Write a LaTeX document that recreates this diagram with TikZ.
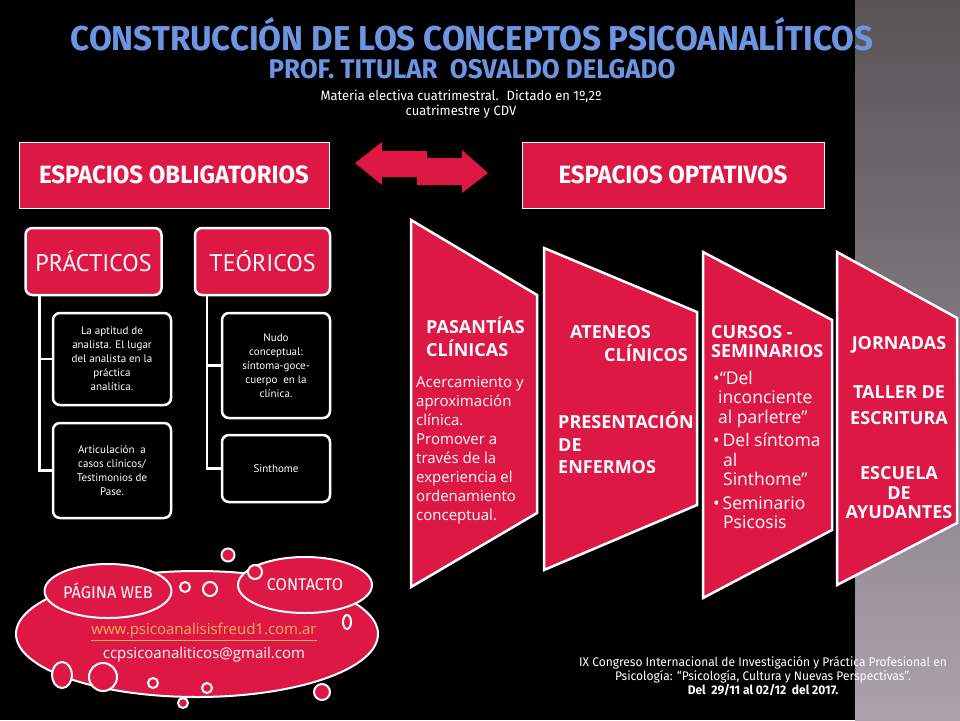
\documentclass[tikz,border=0pt]{standalone}
\usepackage{fontspec}
\setmainfont{PT Sans}
\newfontfamily\condfont[FakeStretch=0.96]{Fira Sans}
\newfontfamily\chevfont{Open Sans}
\usepackage{tikz}
\usetikzlibrary{arrows.meta, calc, positioning, shapes.geometric}
\definecolor{crimson}{RGB}{222,24,68}
\definecolor{titleblue}{RGB}{108,150,228}
\definecolor{weborange}{RGB}{246,178,88}
\definecolor{stripetop}{RGB}{88,84,86}
\definecolor{stripebot}{RGB}{172,162,172}

\begin{document}
\begin{tikzpicture}[x=1pt, y=-1pt,
  topbox/.style={draw=white, line width=1pt, fill=crimson, text=white, minimum height=66pt,
    font=\condfont\bfseries\fontsize{25}{25}\selectfont},
  groupbox/.style={draw=white, line width=2.5pt, fill=crimson, rounded corners=7pt, text=white,
    minimum width=136pt, minimum height=67pt, font=\fontsize{24}{24}\selectfont},
  itembox/.style={draw=white, line width=2.5pt, fill=black, rounded corners=7pt, text=white,
    align=center, inner sep=2pt, font=\fontsize{11}{14}\selectfont},
  tree/.style={draw=white, line width=2.5pt},
  chevron/.style={draw=white, line width=2.5pt, fill=crimson},
  chevhead/.style={text=white, align=left, inner sep=0pt, anchor=base west, font=\chevfont\bfseries\fontsize{18}{23}\selectfont},
  chevtext/.style={text=white, align=left, inner sep=0pt, anchor=base west, font=\chevfont\fontsize{15}{19}\selectfont},
  bubble/.style={draw=white, line width=2pt, fill=crimson},
  smalltext/.style={text=white, align=center, inner sep=0pt, font=\condfont\fontsize{12.5}{14}\selectfont}
]
\useasboundingbox (0,0) rectangle (960,720);
\fill[black] (0,0) rectangle (960,720);
\shade[top color=stripetop, bottom color=stripebot] (855,0) rectangle (960,720);

% titulo
\node[text=titleblue, inner sep=0pt, font=\condfont\bfseries\fontsize{34.5}{35}\selectfont] (title) at (472,34) {CONSTRUCCIÓN DE LOS CONCEPTOS PSICOANALÍTICOS};
\node[text=titleblue, inner sep=0pt, font=\condfont\bfseries\fontsize{27}{27}\selectfont] (prof) at (472,69.5) {PROF. TITULAR \ OSVALDO DELGADO};
\node[smalltext, font=\condfont\fontsize{13.5}{15}\selectfont] (materia) at (461,104) {Materia electiva cuatrimestral. \ Dictado en 1º,2º\\ cuatrimestre y CDV};

% espacios
\node[topbox, minimum width=310pt] (oblig) at (174,175) {ESPACIOS OBLIGATORIOS};
\node[topbox, minimum width=302pt] (optat) at (673,175) {ESPACIOS OPTATIVOS};
\fill[crimson] (355,163) -- (382,142) -- (382,151) -- (427,151) -- (427,177) -- (382,177) -- (382,185) -- cycle;
\fill[crimson] (488,173) -- (462,150) -- (462,158) -- (417,158) -- (417,185) -- (462,185) -- (462,193) -- cycle;

% obligatorios
\node[groupbox] (prac) at (93.5,261.5) {PRÁCTICOS};
\node[groupbox, minimum width=135pt] (teor) at (262.5,261.5) {TEÓRICOS};
\node[itembox, minimum width=118pt, minimum height=92pt] (aptitud) at (112,359) {La aptitud de\\ analista. El lugar\\ del analista en la\\ práctica\\ analítica.};
\node[itembox, minimum width=118pt, minimum height=95pt] (articul) at (112,470.5) {Articulación \ a\\ casos clínicos/\\ Testimonios de\\ Pase.};
\node[itembox, minimum width=108pt, minimum height=105pt] (nudo) at (276,365.5) {Nudo\\ conceptual:\\ síntoma-goce-\\ cuerpo \ en la\\ clínica.};
\node[itembox, minimum width=108pt, minimum height=67pt] (sinth) at (276,468.5) {Sinthome};
\draw[tree] ([xshift=15pt]prac.south west) |- (aptitud.west);
\draw[tree] ([xshift=15pt]prac.south west) |- (articul.west);
\draw[tree] ([xshift=13pt]teor.south west) |- (nudo.west);
\draw[tree] ([xshift=13pt]teor.south west) |- (sinth.west);

% optativos
\draw[chevron] (411,220) -- (537,295) -- (537,513) -- (411,587) -- cycle;
\draw[chevron] (544,248) -- (697,312) -- (697,505) -- (544,570) -- cycle;
\draw[chevron] (703,252) -- (832,320) -- (832,530) -- (703,598) -- cycle;
\draw[chevron] (837,252) -- (957,318) -- (957,523) -- (837,585) -- cycle;

\node[chevhead] (pasant) at (426,356.5) {PASANTÍAS\\ CLÍNICAS};
\node[chevtext] (acerca) at (416,520) {Acercamiento y\\ aproximación\\ clínica.\\ Promover a\\ través de la\\ experiencia el\\ ordenamiento\\ conceptual.};
\node[chevhead] (ateneos) at (570,361.5) {ATENEOS\\ \hspace*{34pt}CLÍNICOS};
\node[chevhead, font=\chevfont\bfseries\fontsize{18}{22.5}\selectfont] (present) at (558,473.5) {PRESENTACIÓN\\ DE\\ ENFERMOS};
\node[chevhead, font=\chevfont\bfseries\fontsize{18}{19.5}\selectfont] (cursos) at (711,357.5) {CURSOS -\\ SEMINARIOS};
\node[chevtext, font=\chevfont\fontsize{17.5}{19.5}\selectfont] (semin) at (713,528.5) {\textbullet“Del\\ \hspace*{5pt}inconciente\\ \hspace*{5pt}al parletre”\\[4pt] \textbullet\,Del síntoma\\ \hspace*{10pt}al\\ \hspace*{10pt}Sinthome”\\[4pt] \textbullet\,Seminario\\ \hspace*{10pt}Psicosis};
\node[chevhead, anchor=base, align=center] (jorn) at (899,349.5) {JORNADAS};
\node[chevhead, anchor=base, align=center, font=\chevfont\bfseries\fontsize{18}{26}\selectfont] (taller) at (899,424.5) {TALLER DE\\ ESCRITURA};
\node[chevhead, anchor=base, align=center, font=\chevfont\bfseries\fontsize{18}{19.5}\selectfont] (escuela) at (899,518.5) {ESCUELA\\ DE\\ AYUDANTES};

% contacto
\draw[bubble] (197,634) ellipse [x radius=181pt, y radius=63pt];
\node[bubble, ellipse, minimum width=120pt, minimum height=54pt, inner sep=0pt, text=white, font=\condfont\fontsize{17}{17}\selectfont] (pagina) at (108,591) {PÁGINA WEB};
\node[bubble, ellipse, minimum width=134pt, minimum height=56pt, inner sep=0pt, text=white, font=\condfont\fontsize{17}{17}\selectfont] (contacto) at (305,585) {CONTACTO};
\foreach \cx/\cy/\r in {185/587/5, 210/589/7, 228/555/6.5, 255/572/7, 153/683/5, 183/703/5, 207/688/5, 322/692/8, 103/677/14}
  \draw[bubble] (\cx,\cy) circle (\r pt);
\draw[bubble] (62,675) ellipse [x radius=10pt, y radius=13pt];
\draw[bubble] (347,622) ellipse [x radius=4pt, y radius=7pt];
\node[text=weborange, font=\chevfont\fontsize{15}{15}\selectfont] (web) at (204,632) {\underline{www.psicoanalisisfreud1.com.ar}};
\node[text=white, font=\chevfont\fontsize{15}{15}\selectfont] (mail) at (204,655) {ccpsicoanaliticos@gmail.com};

% congreso
\node[smalltext] (congreso) at (763,676) {IX Congreso Internacional de Investigación y Práctica Profesional en\\ Psicología: “Psicología, Cultura y Nuevas Perspectivas”.\\ \textbf{Del \ 29/11 al 02/12 \ del 2017.}};
\end{tikzpicture}
\end{document}
